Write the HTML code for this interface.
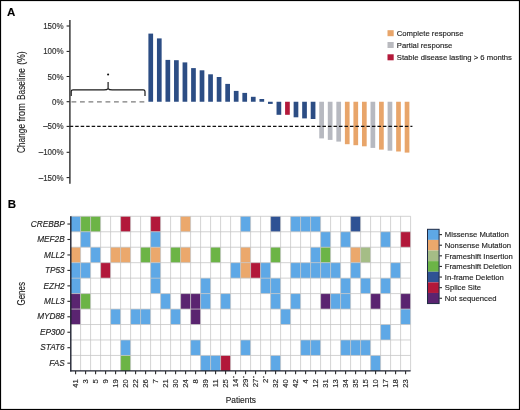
<!DOCTYPE html>
<html><head><meta charset="utf-8"><style>
html,body{margin:0;padding:0;background:#fff;}
body{width:520px;height:410px;position:relative;overflow:hidden;font-family:"Liberation Sans",sans-serif;}
svg text{stroke:#222;stroke-width:0.14px;}
</style></head><body>
<svg width="520" height="410" viewBox="0 0 520 410" style="position:absolute;left:0;top:0;filter:blur(0.4px)">
<rect x="0" y="0" width="520" height="410" fill="#fff"/>
<text x="7.1" y="15.5" font-family='"Liberation Sans", sans-serif' font-weight="bold" font-size="11.5" fill="#000">A</text>
<text x="7.7" y="208" font-family='"Liberation Sans", sans-serif' font-weight="bold" font-size="11.5" fill="#000">B</text>
<rect x="148.40" y="33.60" width="4.7" height="68.15" fill="#2c4d84"/>
<rect x="156.94" y="38.40" width="4.7" height="63.35" fill="#2c4d84"/>
<rect x="165.49" y="59.90" width="4.7" height="41.85" fill="#2c4d84"/>
<rect x="174.03" y="60.20" width="4.7" height="41.55" fill="#2c4d84"/>
<rect x="182.57" y="62.40" width="4.7" height="39.35" fill="#2c4d84"/>
<rect x="191.12" y="68.10" width="4.7" height="33.65" fill="#2c4d84"/>
<rect x="199.66" y="70.30" width="4.7" height="31.45" fill="#2c4d84"/>
<rect x="208.20" y="74.30" width="4.7" height="27.45" fill="#2c4d84"/>
<rect x="216.74" y="77.00" width="4.7" height="24.75" fill="#2c4d84"/>
<rect x="225.29" y="83.90" width="4.7" height="17.85" fill="#2c4d84"/>
<rect x="233.83" y="90.90" width="4.7" height="10.85" fill="#2c4d84"/>
<rect x="242.37" y="92.90" width="4.7" height="8.85" fill="#2c4d84"/>
<rect x="250.92" y="96.80" width="4.7" height="4.95" fill="#2c4d84"/>
<rect x="259.46" y="99.00" width="4.7" height="2.75" fill="#2c4d84"/>
<rect x="268.00" y="101.75" width="4.7" height="2.15" fill="#2c4d84"/>
<rect x="276.54" y="101.75" width="4.7" height="13.05" fill="#2c4d84"/>
<rect x="285.09" y="101.75" width="4.7" height="13.05" fill="#b3193a"/>
<rect x="293.63" y="101.75" width="4.7" height="15.55" fill="#2c4d84"/>
<rect x="302.17" y="101.75" width="4.7" height="16.65" fill="#2c4d84"/>
<rect x="310.72" y="101.75" width="4.7" height="17.25" fill="#2c4d84"/>
<rect x="319.26" y="101.75" width="4.7" height="36.65" fill="#b7b9c0"/>
<rect x="327.80" y="101.75" width="4.7" height="38.15" fill="#b7b9c0"/>
<rect x="336.35" y="101.75" width="4.7" height="39.85" fill="#b7b9c0"/>
<rect x="344.89" y="101.75" width="4.7" height="42.45" fill="#e8a56a"/>
<rect x="353.43" y="101.75" width="4.7" height="43.45" fill="#e8a56a"/>
<rect x="361.98" y="101.75" width="4.7" height="44.55" fill="#e8a56a"/>
<rect x="370.52" y="101.75" width="4.7" height="46.15" fill="#b7b9c0"/>
<rect x="379.06" y="101.75" width="4.7" height="47.85" fill="#e8a56a"/>
<rect x="387.60" y="101.75" width="4.7" height="48.95" fill="#b7b9c0"/>
<rect x="396.15" y="101.75" width="4.7" height="49.75" fill="#e8a56a"/>
<rect x="404.69" y="101.75" width="4.7" height="50.85" fill="#e8a56a"/>
<line x1="71.5" y1="101.8" x2="145" y2="101.8" stroke="#7c7c7c" stroke-width="1.35" stroke-dasharray="4.8 3.7"/>
<line x1="69.7" y1="126.35" x2="412.4" y2="126.35" stroke="#111" stroke-width="1.3" stroke-dasharray="3.5 1.995"/>
<path d="M71.2,96 L71.2,91.6 Q71.2,89.9 73,89.9 L104,89.9 Q107.2,89.9 108.1,88.6 Q109,89.9 112.2,89.9 L143.2,89.9 Q145,89.9 145,91.6 L145,96 M108.1,88.6 L108.1,82" fill="none" stroke="#1a1a1a" stroke-width="1.2"/>
<circle cx="108.1" cy="74.5" r="1.05" fill="#111"/>
<line x1="69.9" y1="20" x2="69.9" y2="183.8" stroke="#2b2b2b" stroke-width="1.4"/>
<line x1="66.6" y1="26.00" x2="69.5" y2="26.00" stroke="#1a1a1a" stroke-width="1.05"/>
<text x="63.6" y="29.05" text-anchor="end" font-family='"Liberation Sans", sans-serif' font-size="8.6" textLength="20.46" lengthAdjust="spacingAndGlyphs" fill="#333">150%</text>
<line x1="66.6" y1="51.40" x2="69.5" y2="51.40" stroke="#1a1a1a" stroke-width="1.05"/>
<text x="63.6" y="54.45" text-anchor="end" font-family='"Liberation Sans", sans-serif' font-size="8.6" textLength="20.46" lengthAdjust="spacingAndGlyphs" fill="#333">100%</text>
<line x1="66.6" y1="76.50" x2="69.5" y2="76.50" stroke="#1a1a1a" stroke-width="1.05"/>
<text x="63.6" y="79.55" text-anchor="end" font-family='"Liberation Sans", sans-serif' font-size="8.6" textLength="16.01" lengthAdjust="spacingAndGlyphs" fill="#333">50%</text>
<line x1="66.6" y1="101.70" x2="69.5" y2="101.70" stroke="#1a1a1a" stroke-width="1.05"/>
<text x="63.6" y="104.75" text-anchor="end" font-family='"Liberation Sans", sans-serif' font-size="8.6" textLength="11.56" lengthAdjust="spacingAndGlyphs" fill="#333">0%</text>
<line x1="66.6" y1="126.40" x2="69.5" y2="126.40" stroke="#1a1a1a" stroke-width="1.05"/>
<text x="63.6" y="129.45" text-anchor="end" font-family='"Liberation Sans", sans-serif' font-size="8.6" textLength="20.46" lengthAdjust="spacingAndGlyphs" fill="#333">–50%</text>
<line x1="66.6" y1="152.30" x2="69.5" y2="152.30" stroke="#1a1a1a" stroke-width="1.05"/>
<text x="63.6" y="155.35" text-anchor="end" font-family='"Liberation Sans", sans-serif' font-size="8.6" textLength="24.91" lengthAdjust="spacingAndGlyphs" fill="#333">–100%</text>
<line x1="66.6" y1="177.60" x2="69.5" y2="177.60" stroke="#1a1a1a" stroke-width="1.05"/>
<text x="63.6" y="180.65" text-anchor="end" font-family='"Liberation Sans", sans-serif' font-size="8.6" textLength="24.91" lengthAdjust="spacingAndGlyphs" fill="#333">–150%</text>
<text transform="translate(25.1,153.0) rotate(-90)" font-family='"Liberation Sans", sans-serif' font-size="10.6" textLength="29.0" lengthAdjust="spacingAndGlyphs" fill="#222">Change</text>
<text transform="translate(25.1,121.5) rotate(-90)" font-family='"Liberation Sans", sans-serif' font-size="10.6" textLength="18.3" lengthAdjust="spacingAndGlyphs" fill="#222">from</text>
<text transform="translate(25.1,100.0) rotate(-90)" font-family='"Liberation Sans", sans-serif' font-size="10.6" textLength="31.8" lengthAdjust="spacingAndGlyphs" fill="#222">Baseline</text>
<text transform="translate(25.1,64.8) rotate(-90)" font-family='"Liberation Sans", sans-serif' font-size="10.6" textLength="13.5" lengthAdjust="spacingAndGlyphs" fill="#222">(%)</text>
<rect x="387.5" y="30.20" width="6.2" height="6" fill="#e8a56a"/>
<text x="396.8" y="36.00" font-family='"Liberation Sans", sans-serif' font-size="7.7" fill="#222">Complete response</text>
<rect x="387.5" y="42.00" width="6.2" height="6" fill="#b9babf"/>
<text x="396.8" y="47.80" font-family='"Liberation Sans", sans-serif' font-size="7.7" fill="#222">Partial response</text>
<rect x="387.5" y="54.30" width="6.2" height="6" fill="#b3193a"/>
<text x="396.8" y="60.10" font-family='"Liberation Sans", sans-serif' font-size="7.7" fill="#222">Stable disease lasting &gt; 6 months</text>
<rect x="70.60" y="216.30" width="10.0" height="15.46" fill="#5ea8e6"/>
<rect x="80.60" y="216.30" width="10.0" height="15.46" fill="#6cb446"/>
<rect x="90.60" y="216.30" width="10.0" height="15.46" fill="#6cb446"/>
<rect x="120.60" y="216.30" width="10.0" height="15.46" fill="#b2183a"/>
<rect x="150.60" y="216.30" width="10.0" height="15.46" fill="#b2183a"/>
<rect x="180.60" y="216.30" width="10.0" height="15.46" fill="#eba86c"/>
<rect x="240.60" y="216.30" width="10.0" height="15.46" fill="#5ea8e6"/>
<rect x="270.60" y="216.30" width="10.0" height="15.46" fill="#2f5294"/>
<rect x="290.60" y="216.30" width="10.0" height="15.46" fill="#5ea8e6"/>
<rect x="300.60" y="216.30" width="10.0" height="15.46" fill="#5ea8e6"/>
<rect x="310.60" y="216.30" width="10.0" height="15.46" fill="#5ea8e6"/>
<rect x="350.60" y="216.30" width="10.0" height="15.46" fill="#2f5294"/>
<rect x="80.60" y="231.76" width="10.0" height="15.46" fill="#5ea8e6"/>
<rect x="150.60" y="231.76" width="10.0" height="15.46" fill="#5ea8e6"/>
<rect x="320.60" y="231.76" width="10.0" height="15.46" fill="#5ea8e6"/>
<rect x="340.60" y="231.76" width="10.0" height="15.46" fill="#5ea8e6"/>
<rect x="380.60" y="231.76" width="10.0" height="15.46" fill="#5ea8e6"/>
<rect x="400.60" y="231.76" width="10.0" height="15.46" fill="#b2183a"/>
<rect x="70.60" y="247.22" width="10.0" height="15.46" fill="#eba86c"/>
<rect x="90.60" y="247.22" width="10.0" height="15.46" fill="#5ea8e6"/>
<rect x="110.60" y="247.22" width="10.0" height="15.46" fill="#eba86c"/>
<rect x="120.60" y="247.22" width="10.0" height="15.46" fill="#eba86c"/>
<rect x="140.60" y="247.22" width="10.0" height="15.46" fill="#6cb446"/>
<rect x="150.60" y="247.22" width="10.0" height="15.46" fill="#eba86c"/>
<rect x="170.60" y="247.22" width="10.0" height="15.46" fill="#6cb446"/>
<rect x="180.60" y="247.22" width="10.0" height="15.46" fill="#eba86c"/>
<rect x="210.60" y="247.22" width="10.0" height="15.46" fill="#6cb446"/>
<rect x="240.60" y="247.22" width="10.0" height="15.46" fill="#eba86c"/>
<rect x="270.60" y="247.22" width="10.0" height="15.46" fill="#6cb446"/>
<rect x="310.60" y="247.22" width="10.0" height="15.46" fill="#5ea8e6"/>
<rect x="320.60" y="247.22" width="10.0" height="15.46" fill="#6cb446"/>
<rect x="350.60" y="247.22" width="10.0" height="15.46" fill="#eba86c"/>
<rect x="360.60" y="247.22" width="10.0" height="15.46" fill="#a5bd86"/>
<rect x="70.60" y="262.68" width="10.0" height="15.46" fill="#5ea8e6"/>
<rect x="80.60" y="262.68" width="10.0" height="15.46" fill="#5ea8e6"/>
<rect x="100.60" y="262.68" width="10.0" height="15.46" fill="#b2183a"/>
<rect x="150.60" y="262.68" width="10.0" height="15.46" fill="#5ea8e6"/>
<rect x="230.60" y="262.68" width="10.0" height="15.46" fill="#5ea8e6"/>
<rect x="240.60" y="262.68" width="10.0" height="15.46" fill="#eba86c"/>
<rect x="250.60" y="262.68" width="10.0" height="15.46" fill="#b2183a"/>
<rect x="260.60" y="262.68" width="10.0" height="15.46" fill="#5ea8e6"/>
<rect x="290.60" y="262.68" width="10.0" height="15.46" fill="#5ea8e6"/>
<rect x="300.60" y="262.68" width="10.0" height="15.46" fill="#5ea8e6"/>
<rect x="310.60" y="262.68" width="10.0" height="15.46" fill="#5ea8e6"/>
<rect x="320.60" y="262.68" width="10.0" height="15.46" fill="#5ea8e6"/>
<rect x="330.60" y="262.68" width="10.0" height="15.46" fill="#5ea8e6"/>
<rect x="350.60" y="262.68" width="10.0" height="15.46" fill="#5ea8e6"/>
<rect x="390.60" y="262.68" width="10.0" height="15.46" fill="#5ea8e6"/>
<rect x="70.60" y="278.14" width="10.0" height="15.46" fill="#5ea8e6"/>
<rect x="150.60" y="278.14" width="10.0" height="15.46" fill="#5ea8e6"/>
<rect x="200.60" y="278.14" width="10.0" height="15.46" fill="#5ea8e6"/>
<rect x="260.60" y="278.14" width="10.0" height="15.46" fill="#5ea8e6"/>
<rect x="270.60" y="278.14" width="10.0" height="15.46" fill="#5ea8e6"/>
<rect x="340.60" y="278.14" width="10.0" height="15.46" fill="#5ea8e6"/>
<rect x="360.60" y="278.14" width="10.0" height="15.46" fill="#5ea8e6"/>
<rect x="380.60" y="278.14" width="10.0" height="15.46" fill="#5ea8e6"/>
<rect x="70.60" y="293.60" width="10.0" height="15.46" fill="#5a2470"/>
<rect x="80.60" y="293.60" width="10.0" height="15.46" fill="#6cb446"/>
<rect x="160.60" y="293.60" width="10.0" height="15.46" fill="#5ea8e6"/>
<rect x="180.60" y="293.60" width="10.0" height="15.46" fill="#5a2470"/>
<rect x="190.60" y="293.60" width="10.0" height="15.46" fill="#5a2470"/>
<rect x="200.60" y="293.60" width="10.0" height="15.46" fill="#5ea8e6"/>
<rect x="220.60" y="293.60" width="10.0" height="15.46" fill="#5ea8e6"/>
<rect x="270.60" y="293.60" width="10.0" height="15.46" fill="#5ea8e6"/>
<rect x="290.60" y="293.60" width="10.0" height="15.46" fill="#5ea8e6"/>
<rect x="320.60" y="293.60" width="10.0" height="15.46" fill="#5a2470"/>
<rect x="330.60" y="293.60" width="10.0" height="15.46" fill="#5ea8e6"/>
<rect x="340.60" y="293.60" width="10.0" height="15.46" fill="#5ea8e6"/>
<rect x="370.60" y="293.60" width="10.0" height="15.46" fill="#5a2470"/>
<rect x="400.60" y="293.60" width="10.0" height="15.46" fill="#5a2470"/>
<rect x="70.60" y="309.06" width="10.0" height="15.46" fill="#5a2470"/>
<rect x="110.60" y="309.06" width="10.0" height="15.46" fill="#5ea8e6"/>
<rect x="130.60" y="309.06" width="10.0" height="15.46" fill="#5ea8e6"/>
<rect x="140.60" y="309.06" width="10.0" height="15.46" fill="#5ea8e6"/>
<rect x="170.60" y="309.06" width="10.0" height="15.46" fill="#5ea8e6"/>
<rect x="190.60" y="309.06" width="10.0" height="15.46" fill="#5a2470"/>
<rect x="280.60" y="309.06" width="10.0" height="15.46" fill="#5ea8e6"/>
<rect x="400.60" y="309.06" width="10.0" height="15.46" fill="#5ea8e6"/>
<rect x="380.60" y="324.52" width="10.0" height="15.46" fill="#5ea8e6"/>
<rect x="120.60" y="339.98" width="10.0" height="15.46" fill="#5ea8e6"/>
<rect x="190.60" y="339.98" width="10.0" height="15.46" fill="#5ea8e6"/>
<rect x="240.60" y="339.98" width="10.0" height="15.46" fill="#5ea8e6"/>
<rect x="300.60" y="339.98" width="10.0" height="15.46" fill="#5ea8e6"/>
<rect x="310.60" y="339.98" width="10.0" height="15.46" fill="#5ea8e6"/>
<rect x="340.60" y="339.98" width="10.0" height="15.46" fill="#5ea8e6"/>
<rect x="350.60" y="339.98" width="10.0" height="15.46" fill="#5ea8e6"/>
<rect x="360.60" y="339.98" width="10.0" height="15.46" fill="#5ea8e6"/>
<rect x="120.60" y="355.44" width="10.0" height="15.46" fill="#6cb446"/>
<rect x="200.60" y="355.44" width="10.0" height="15.46" fill="#5ea8e6"/>
<rect x="210.60" y="355.44" width="10.0" height="15.46" fill="#5ea8e6"/>
<rect x="220.60" y="355.44" width="10.0" height="15.46" fill="#b2183a"/>
<rect x="270.60" y="355.44" width="10.0" height="15.46" fill="#5ea8e6"/>
<rect x="370.60" y="355.44" width="10.0" height="15.46" fill="#5ea8e6"/>
<line x1="80.60" y1="216.30" x2="80.60" y2="370.90" stroke="#c4c4c4" stroke-width="0.9" stroke-opacity="0.85"/>
<line x1="90.60" y1="216.30" x2="90.60" y2="370.90" stroke="#c4c4c4" stroke-width="0.9" stroke-opacity="0.85"/>
<line x1="100.60" y1="216.30" x2="100.60" y2="370.90" stroke="#c4c4c4" stroke-width="0.9" stroke-opacity="0.85"/>
<line x1="110.60" y1="216.30" x2="110.60" y2="370.90" stroke="#c4c4c4" stroke-width="0.9" stroke-opacity="0.85"/>
<line x1="120.60" y1="216.30" x2="120.60" y2="370.90" stroke="#c4c4c4" stroke-width="0.9" stroke-opacity="0.85"/>
<line x1="130.60" y1="216.30" x2="130.60" y2="370.90" stroke="#c4c4c4" stroke-width="0.9" stroke-opacity="0.85"/>
<line x1="140.60" y1="216.30" x2="140.60" y2="370.90" stroke="#c4c4c4" stroke-width="0.9" stroke-opacity="0.85"/>
<line x1="150.60" y1="216.30" x2="150.60" y2="370.90" stroke="#c4c4c4" stroke-width="0.9" stroke-opacity="0.85"/>
<line x1="160.60" y1="216.30" x2="160.60" y2="370.90" stroke="#c4c4c4" stroke-width="0.9" stroke-opacity="0.85"/>
<line x1="170.60" y1="216.30" x2="170.60" y2="370.90" stroke="#c4c4c4" stroke-width="0.9" stroke-opacity="0.85"/>
<line x1="180.60" y1="216.30" x2="180.60" y2="370.90" stroke="#c4c4c4" stroke-width="0.9" stroke-opacity="0.85"/>
<line x1="190.60" y1="216.30" x2="190.60" y2="370.90" stroke="#c4c4c4" stroke-width="0.9" stroke-opacity="0.85"/>
<line x1="200.60" y1="216.30" x2="200.60" y2="370.90" stroke="#c4c4c4" stroke-width="0.9" stroke-opacity="0.85"/>
<line x1="210.60" y1="216.30" x2="210.60" y2="370.90" stroke="#c4c4c4" stroke-width="0.9" stroke-opacity="0.85"/>
<line x1="220.60" y1="216.30" x2="220.60" y2="370.90" stroke="#c4c4c4" stroke-width="0.9" stroke-opacity="0.85"/>
<line x1="230.60" y1="216.30" x2="230.60" y2="370.90" stroke="#c4c4c4" stroke-width="0.9" stroke-opacity="0.85"/>
<line x1="240.60" y1="216.30" x2="240.60" y2="370.90" stroke="#c4c4c4" stroke-width="0.9" stroke-opacity="0.85"/>
<line x1="250.60" y1="216.30" x2="250.60" y2="370.90" stroke="#c4c4c4" stroke-width="0.9" stroke-opacity="0.85"/>
<line x1="260.60" y1="216.30" x2="260.60" y2="370.90" stroke="#c4c4c4" stroke-width="0.9" stroke-opacity="0.85"/>
<line x1="270.60" y1="216.30" x2="270.60" y2="370.90" stroke="#c4c4c4" stroke-width="0.9" stroke-opacity="0.85"/>
<line x1="280.60" y1="216.30" x2="280.60" y2="370.90" stroke="#c4c4c4" stroke-width="0.9" stroke-opacity="0.85"/>
<line x1="290.60" y1="216.30" x2="290.60" y2="370.90" stroke="#c4c4c4" stroke-width="0.9" stroke-opacity="0.85"/>
<line x1="300.60" y1="216.30" x2="300.60" y2="370.90" stroke="#c4c4c4" stroke-width="0.9" stroke-opacity="0.85"/>
<line x1="310.60" y1="216.30" x2="310.60" y2="370.90" stroke="#c4c4c4" stroke-width="0.9" stroke-opacity="0.85"/>
<line x1="320.60" y1="216.30" x2="320.60" y2="370.90" stroke="#c4c4c4" stroke-width="0.9" stroke-opacity="0.85"/>
<line x1="330.60" y1="216.30" x2="330.60" y2="370.90" stroke="#c4c4c4" stroke-width="0.9" stroke-opacity="0.85"/>
<line x1="340.60" y1="216.30" x2="340.60" y2="370.90" stroke="#c4c4c4" stroke-width="0.9" stroke-opacity="0.85"/>
<line x1="350.60" y1="216.30" x2="350.60" y2="370.90" stroke="#c4c4c4" stroke-width="0.9" stroke-opacity="0.85"/>
<line x1="360.60" y1="216.30" x2="360.60" y2="370.90" stroke="#c4c4c4" stroke-width="0.9" stroke-opacity="0.85"/>
<line x1="370.60" y1="216.30" x2="370.60" y2="370.90" stroke="#c4c4c4" stroke-width="0.9" stroke-opacity="0.85"/>
<line x1="380.60" y1="216.30" x2="380.60" y2="370.90" stroke="#c4c4c4" stroke-width="0.9" stroke-opacity="0.85"/>
<line x1="390.60" y1="216.30" x2="390.60" y2="370.90" stroke="#c4c4c4" stroke-width="0.9" stroke-opacity="0.85"/>
<line x1="400.60" y1="216.30" x2="400.60" y2="370.90" stroke="#c4c4c4" stroke-width="0.9" stroke-opacity="0.85"/>
<line x1="410.60" y1="216.30" x2="410.60" y2="370.90" stroke="#c4c4c4" stroke-width="0.9" stroke-opacity="0.85"/>
<line x1="70.60" y1="216.30" x2="410.60" y2="216.30" stroke="#c4c4c4" stroke-width="0.9" stroke-opacity="0.85"/>
<line x1="70.60" y1="231.76" x2="410.60" y2="231.76" stroke="#c4c4c4" stroke-width="0.9" stroke-opacity="0.85"/>
<line x1="70.60" y1="247.22" x2="410.60" y2="247.22" stroke="#c4c4c4" stroke-width="0.9" stroke-opacity="0.85"/>
<line x1="70.60" y1="262.68" x2="410.60" y2="262.68" stroke="#c4c4c4" stroke-width="0.9" stroke-opacity="0.85"/>
<line x1="70.60" y1="278.14" x2="410.60" y2="278.14" stroke="#c4c4c4" stroke-width="0.9" stroke-opacity="0.85"/>
<line x1="70.60" y1="293.60" x2="410.60" y2="293.60" stroke="#c4c4c4" stroke-width="0.9" stroke-opacity="0.85"/>
<line x1="70.60" y1="309.06" x2="410.60" y2="309.06" stroke="#c4c4c4" stroke-width="0.9" stroke-opacity="0.85"/>
<line x1="70.60" y1="324.52" x2="410.60" y2="324.52" stroke="#c4c4c4" stroke-width="0.9" stroke-opacity="0.85"/>
<line x1="70.60" y1="339.98" x2="410.60" y2="339.98" stroke="#c4c4c4" stroke-width="0.9" stroke-opacity="0.85"/>
<line x1="70.60" y1="355.44" x2="410.60" y2="355.44" stroke="#c4c4c4" stroke-width="0.9" stroke-opacity="0.85"/>
<line x1="70.8" y1="216.30" x2="70.8" y2="371.50" stroke="#1e2230" stroke-width="1.4"/>
<line x1="70.1" y1="370.90" x2="410.60" y2="370.90" stroke="#1e2230" stroke-width="1.4"/>
<line x1="67.4" y1="224.03" x2="70.2" y2="224.03" stroke="#2b2b2b" stroke-width="1.1"/>
<text x="64.7" y="226.73" text-anchor="end" font-family='"Liberation Sans", sans-serif' font-style="italic" font-size="8.25" fill="#222">CREBBP</text>
<line x1="67.4" y1="239.49" x2="70.2" y2="239.49" stroke="#2b2b2b" stroke-width="1.1"/>
<text x="64.7" y="242.19" text-anchor="end" font-family='"Liberation Sans", sans-serif' font-style="italic" font-size="8.25" fill="#222">MEF2B</text>
<line x1="67.4" y1="254.95" x2="70.2" y2="254.95" stroke="#2b2b2b" stroke-width="1.1"/>
<text x="64.7" y="257.65" text-anchor="end" font-family='"Liberation Sans", sans-serif' font-style="italic" font-size="8.25" fill="#222">MLL2</text>
<line x1="67.4" y1="270.41" x2="70.2" y2="270.41" stroke="#2b2b2b" stroke-width="1.1"/>
<text x="64.7" y="273.11" text-anchor="end" font-family='"Liberation Sans", sans-serif' font-style="italic" font-size="8.25" fill="#222">TP53</text>
<line x1="67.4" y1="285.87" x2="70.2" y2="285.87" stroke="#2b2b2b" stroke-width="1.1"/>
<text x="64.7" y="288.57" text-anchor="end" font-family='"Liberation Sans", sans-serif' font-style="italic" font-size="8.25" fill="#222">EZH2</text>
<line x1="67.4" y1="301.33" x2="70.2" y2="301.33" stroke="#2b2b2b" stroke-width="1.1"/>
<text x="64.7" y="304.03" text-anchor="end" font-family='"Liberation Sans", sans-serif' font-style="italic" font-size="8.25" fill="#222">MLL3</text>
<line x1="67.4" y1="316.79" x2="70.2" y2="316.79" stroke="#2b2b2b" stroke-width="1.1"/>
<text x="64.7" y="319.49" text-anchor="end" font-family='"Liberation Sans", sans-serif' font-style="italic" font-size="8.25" fill="#222">MYD88</text>
<line x1="67.4" y1="332.25" x2="70.2" y2="332.25" stroke="#2b2b2b" stroke-width="1.1"/>
<text x="64.7" y="334.95" text-anchor="end" font-family='"Liberation Sans", sans-serif' font-style="italic" font-size="8.25" fill="#222">EP300</text>
<line x1="67.4" y1="347.71" x2="70.2" y2="347.71" stroke="#2b2b2b" stroke-width="1.1"/>
<text x="64.7" y="350.41" text-anchor="end" font-family='"Liberation Sans", sans-serif' font-style="italic" font-size="8.25" fill="#222">STAT6</text>
<line x1="67.4" y1="363.17" x2="70.2" y2="363.17" stroke="#2b2b2b" stroke-width="1.1"/>
<text x="64.7" y="365.87" text-anchor="end" font-family='"Liberation Sans", sans-serif' font-style="italic" font-size="8.25" fill="#222">FAS</text>
<line x1="75.60" y1="370.90" x2="75.60" y2="374.30" stroke="#2b2b2b" stroke-width="1.1"/>
<text transform="translate(78.20,379.2) rotate(-90)" text-anchor="end" font-family='"Liberation Sans", sans-serif' font-size="7.7" fill="#222">41</text>
<line x1="85.60" y1="370.90" x2="85.60" y2="374.30" stroke="#2b2b2b" stroke-width="1.1"/>
<text transform="translate(88.20,379.2) rotate(-90)" text-anchor="end" font-family='"Liberation Sans", sans-serif' font-size="7.7" fill="#222">3</text>
<line x1="95.60" y1="370.90" x2="95.60" y2="374.30" stroke="#2b2b2b" stroke-width="1.1"/>
<text transform="translate(98.20,379.2) rotate(-90)" text-anchor="end" font-family='"Liberation Sans", sans-serif' font-size="7.7" fill="#222">5</text>
<line x1="105.60" y1="370.90" x2="105.60" y2="374.30" stroke="#2b2b2b" stroke-width="1.1"/>
<text transform="translate(108.20,379.2) rotate(-90)" text-anchor="end" font-family='"Liberation Sans", sans-serif' font-size="7.7" fill="#222">9</text>
<line x1="115.60" y1="370.90" x2="115.60" y2="374.30" stroke="#2b2b2b" stroke-width="1.1"/>
<text transform="translate(118.20,379.2) rotate(-90)" text-anchor="end" font-family='"Liberation Sans", sans-serif' font-size="7.7" fill="#222">19</text>
<line x1="125.60" y1="370.90" x2="125.60" y2="374.30" stroke="#2b2b2b" stroke-width="1.1"/>
<text transform="translate(128.20,379.2) rotate(-90)" text-anchor="end" font-family='"Liberation Sans", sans-serif' font-size="7.7" fill="#222">20</text>
<line x1="135.60" y1="370.90" x2="135.60" y2="374.30" stroke="#2b2b2b" stroke-width="1.1"/>
<text transform="translate(138.20,379.2) rotate(-90)" text-anchor="end" font-family='"Liberation Sans", sans-serif' font-size="7.7" fill="#222">22</text>
<line x1="145.60" y1="370.90" x2="145.60" y2="374.30" stroke="#2b2b2b" stroke-width="1.1"/>
<text transform="translate(148.20,379.2) rotate(-90)" text-anchor="end" font-family='"Liberation Sans", sans-serif' font-size="7.7" fill="#222">26</text>
<line x1="155.60" y1="370.90" x2="155.60" y2="374.30" stroke="#2b2b2b" stroke-width="1.1"/>
<text transform="translate(158.20,379.2) rotate(-90)" text-anchor="end" font-family='"Liberation Sans", sans-serif' font-size="7.7" fill="#222">7</text>
<line x1="165.60" y1="370.90" x2="165.60" y2="374.30" stroke="#2b2b2b" stroke-width="1.1"/>
<text transform="translate(168.20,379.2) rotate(-90)" text-anchor="end" font-family='"Liberation Sans", sans-serif' font-size="7.7" fill="#222">21</text>
<line x1="175.60" y1="370.90" x2="175.60" y2="374.30" stroke="#2b2b2b" stroke-width="1.1"/>
<text transform="translate(178.20,379.2) rotate(-90)" text-anchor="end" font-family='"Liberation Sans", sans-serif' font-size="7.7" fill="#222">30</text>
<line x1="185.60" y1="370.90" x2="185.60" y2="374.30" stroke="#2b2b2b" stroke-width="1.1"/>
<text transform="translate(188.20,379.2) rotate(-90)" text-anchor="end" font-family='"Liberation Sans", sans-serif' font-size="7.7" fill="#222">24</text>
<line x1="195.60" y1="370.90" x2="195.60" y2="374.30" stroke="#2b2b2b" stroke-width="1.1"/>
<text transform="translate(198.20,379.2) rotate(-90)" text-anchor="end" font-family='"Liberation Sans", sans-serif' font-size="7.7" fill="#222">8</text>
<line x1="205.60" y1="370.90" x2="205.60" y2="374.30" stroke="#2b2b2b" stroke-width="1.1"/>
<text transform="translate(208.20,379.2) rotate(-90)" text-anchor="end" font-family='"Liberation Sans", sans-serif' font-size="7.7" fill="#222">39</text>
<line x1="215.60" y1="370.90" x2="215.60" y2="374.30" stroke="#2b2b2b" stroke-width="1.1"/>
<text transform="translate(218.20,379.2) rotate(-90)" text-anchor="end" font-family='"Liberation Sans", sans-serif' font-size="7.7" fill="#222">11</text>
<line x1="225.60" y1="370.90" x2="225.60" y2="374.30" stroke="#2b2b2b" stroke-width="1.1"/>
<text transform="translate(228.20,379.2) rotate(-90)" text-anchor="end" font-family='"Liberation Sans", sans-serif' font-size="7.7" fill="#222">25</text>
<line x1="235.60" y1="370.90" x2="235.60" y2="374.30" stroke="#2b2b2b" stroke-width="1.1"/>
<text transform="translate(238.20,378.8) rotate(-90)" text-anchor="end" font-family='"Liberation Sans", sans-serif' font-size="7.7" fill="#222">14</text>
<circle cx="233.60" cy="377.0" r="0.75" fill="#222"/>
<line x1="245.60" y1="370.90" x2="245.60" y2="374.30" stroke="#2b2b2b" stroke-width="1.1"/>
<text transform="translate(248.20,378.8) rotate(-90)" text-anchor="end" font-family='"Liberation Sans", sans-serif' font-size="7.7" fill="#222">29</text>
<circle cx="243.60" cy="377.0" r="0.75" fill="#222"/>
<line x1="255.60" y1="370.90" x2="255.60" y2="374.30" stroke="#2b2b2b" stroke-width="1.1"/>
<text transform="translate(258.20,378.8) rotate(-90)" text-anchor="end" font-family='"Liberation Sans", sans-serif' font-size="7.7" fill="#222">27</text>
<circle cx="253.60" cy="377.0" r="0.75" fill="#222"/>
<line x1="265.60" y1="370.90" x2="265.60" y2="374.30" stroke="#2b2b2b" stroke-width="1.1"/>
<text transform="translate(268.20,378.8) rotate(-90)" text-anchor="end" font-family='"Liberation Sans", sans-serif' font-size="7.7" fill="#222">2</text>
<circle cx="263.60" cy="377.0" r="0.75" fill="#222"/>
<line x1="275.60" y1="370.90" x2="275.60" y2="374.30" stroke="#2b2b2b" stroke-width="1.1"/>
<text transform="translate(278.20,379.2) rotate(-90)" text-anchor="end" font-family='"Liberation Sans", sans-serif' font-size="7.7" fill="#222">32</text>
<line x1="285.60" y1="370.90" x2="285.60" y2="374.30" stroke="#2b2b2b" stroke-width="1.1"/>
<text transform="translate(288.20,379.2) rotate(-90)" text-anchor="end" font-family='"Liberation Sans", sans-serif' font-size="7.7" fill="#222">40</text>
<line x1="295.60" y1="370.90" x2="295.60" y2="374.30" stroke="#2b2b2b" stroke-width="1.1"/>
<text transform="translate(298.20,379.2) rotate(-90)" text-anchor="end" font-family='"Liberation Sans", sans-serif' font-size="7.7" fill="#222">42</text>
<line x1="305.60" y1="370.90" x2="305.60" y2="374.30" stroke="#2b2b2b" stroke-width="1.1"/>
<text transform="translate(308.20,379.2) rotate(-90)" text-anchor="end" font-family='"Liberation Sans", sans-serif' font-size="7.7" fill="#222">4</text>
<line x1="315.60" y1="370.90" x2="315.60" y2="374.30" stroke="#2b2b2b" stroke-width="1.1"/>
<text transform="translate(318.20,379.2) rotate(-90)" text-anchor="end" font-family='"Liberation Sans", sans-serif' font-size="7.7" fill="#222">12</text>
<line x1="325.60" y1="370.90" x2="325.60" y2="374.30" stroke="#2b2b2b" stroke-width="1.1"/>
<text transform="translate(328.20,379.2) rotate(-90)" text-anchor="end" font-family='"Liberation Sans", sans-serif' font-size="7.7" fill="#222">31</text>
<line x1="335.60" y1="370.90" x2="335.60" y2="374.30" stroke="#2b2b2b" stroke-width="1.1"/>
<text transform="translate(338.20,379.2) rotate(-90)" text-anchor="end" font-family='"Liberation Sans", sans-serif' font-size="7.7" fill="#222">13</text>
<line x1="345.60" y1="370.90" x2="345.60" y2="374.30" stroke="#2b2b2b" stroke-width="1.1"/>
<text transform="translate(348.20,379.2) rotate(-90)" text-anchor="end" font-family='"Liberation Sans", sans-serif' font-size="7.7" fill="#222">34</text>
<line x1="355.60" y1="370.90" x2="355.60" y2="374.30" stroke="#2b2b2b" stroke-width="1.1"/>
<text transform="translate(358.20,379.2) rotate(-90)" text-anchor="end" font-family='"Liberation Sans", sans-serif' font-size="7.7" fill="#222">35</text>
<line x1="365.60" y1="370.90" x2="365.60" y2="374.30" stroke="#2b2b2b" stroke-width="1.1"/>
<text transform="translate(368.20,379.2) rotate(-90)" text-anchor="end" font-family='"Liberation Sans", sans-serif' font-size="7.7" fill="#222">15</text>
<line x1="375.60" y1="370.90" x2="375.60" y2="374.30" stroke="#2b2b2b" stroke-width="1.1"/>
<text transform="translate(378.20,379.2) rotate(-90)" text-anchor="end" font-family='"Liberation Sans", sans-serif' font-size="7.7" fill="#222">10</text>
<line x1="385.60" y1="370.90" x2="385.60" y2="374.30" stroke="#2b2b2b" stroke-width="1.1"/>
<text transform="translate(388.20,379.2) rotate(-90)" text-anchor="end" font-family='"Liberation Sans", sans-serif' font-size="7.7" fill="#222">17</text>
<line x1="395.60" y1="370.90" x2="395.60" y2="374.30" stroke="#2b2b2b" stroke-width="1.1"/>
<text transform="translate(398.20,379.2) rotate(-90)" text-anchor="end" font-family='"Liberation Sans", sans-serif' font-size="7.7" fill="#222">18</text>
<line x1="405.60" y1="370.90" x2="405.60" y2="374.30" stroke="#2b2b2b" stroke-width="1.1"/>
<text transform="translate(408.20,379.2) rotate(-90)" text-anchor="end" font-family='"Liberation Sans", sans-serif' font-size="7.7" fill="#222">23</text>
<text transform="translate(25.0,293.8) rotate(-90)" text-anchor="middle" font-family='"Liberation Sans", sans-serif' font-size="10.6" textLength="23.5" lengthAdjust="spacingAndGlyphs" fill="#222">Genes</text>
<text x="240.8" y="402.6" text-anchor="middle" font-family='"Liberation Sans", sans-serif' font-size="9.8" textLength="30.2" lengthAdjust="spacingAndGlyphs" fill="#222">Patients</text>
<rect x="427.5" y="229.30" width="11.6" height="10.61" fill="#5ea8e6"/>
<rect x="427.5" y="239.91" width="11.6" height="10.61" fill="#eba86c"/>
<rect x="427.5" y="250.52" width="11.6" height="10.61" fill="#a5bd86"/>
<rect x="427.5" y="261.13" width="11.6" height="10.61" fill="#6cb446"/>
<rect x="427.5" y="271.74" width="11.6" height="10.61" fill="#2f5294"/>
<rect x="427.5" y="282.35" width="11.6" height="10.61" fill="#b2183a"/>
<rect x="427.5" y="292.96" width="11.6" height="10.61" fill="#5a2470"/>
<line x1="439.3" y1="234.61" x2="442" y2="234.61" stroke="#2b2b2b" stroke-width="1.1"/>
<text x="444.8" y="237.41" font-family='"Liberation Sans", sans-serif' font-size="7.7" fill="#222">Missense Mutation</text>
<line x1="439.3" y1="245.22" x2="442" y2="245.22" stroke="#2b2b2b" stroke-width="1.1"/>
<text x="444.8" y="248.02" font-family='"Liberation Sans", sans-serif' font-size="7.7" fill="#222">Nonsense Mutation</text>
<line x1="439.3" y1="255.83" x2="442" y2="255.83" stroke="#2b2b2b" stroke-width="1.1"/>
<text x="444.8" y="258.62" font-family='"Liberation Sans", sans-serif' font-size="7.7" fill="#222">Frameshift Insertion</text>
<line x1="439.3" y1="266.44" x2="442" y2="266.44" stroke="#2b2b2b" stroke-width="1.1"/>
<text x="444.8" y="269.24" font-family='"Liberation Sans", sans-serif' font-size="7.7" fill="#222">Frameshift Deletion</text>
<line x1="439.3" y1="277.05" x2="442" y2="277.05" stroke="#2b2b2b" stroke-width="1.1"/>
<text x="444.8" y="279.85" font-family='"Liberation Sans", sans-serif' font-size="7.7" fill="#222">In-frame Deletion</text>
<line x1="439.3" y1="287.66" x2="442" y2="287.66" stroke="#2b2b2b" stroke-width="1.1"/>
<text x="444.8" y="290.46" font-family='"Liberation Sans", sans-serif' font-size="7.7" fill="#222">Splice Site</text>
<line x1="439.3" y1="298.26" x2="442" y2="298.26" stroke="#2b2b2b" stroke-width="1.1"/>
<text x="444.8" y="301.06" font-family='"Liberation Sans", sans-serif' font-size="7.7" fill="#222">Not sequenced</text>
<rect x="427.5" y="229.30" width="11.6" height="74.27" fill="none" stroke="#1f2a44" stroke-width="1"/>
<rect x="0.5" y="0.5" width="519" height="409" fill="none" stroke="#000" stroke-width="1.2"/>
</svg>
</body></html>
